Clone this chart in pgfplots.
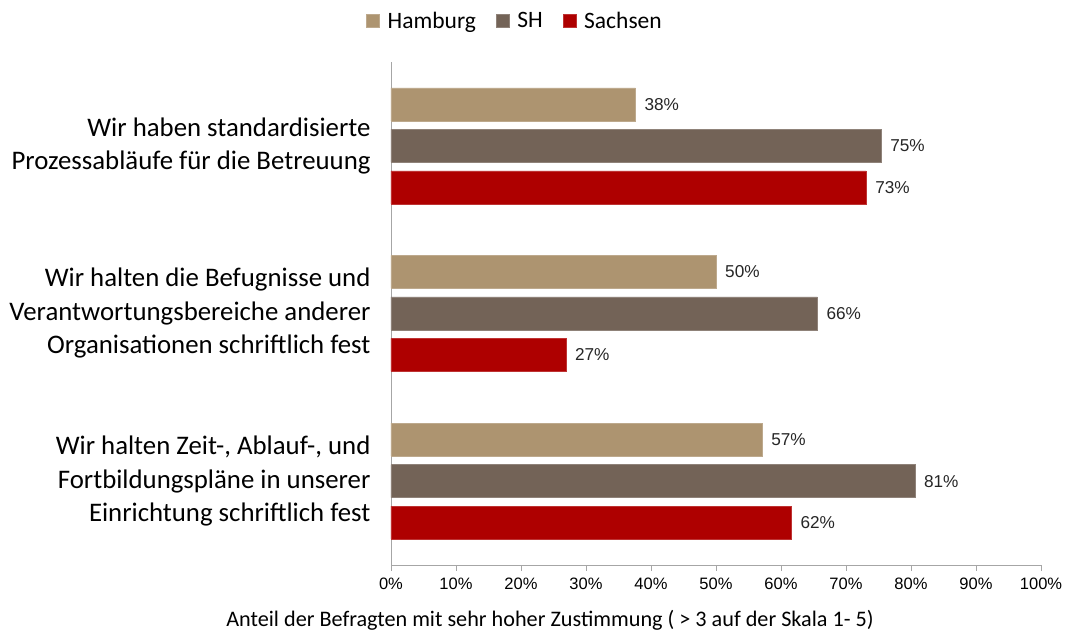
\documentclass[border=0pt]{standalone}
\usepackage{pgfplots}
\pgfplotsset{compat=1.18}
\usepackage{fontspec}
\setmainfont{Carlito}
\newfontfamily\arial{Liberation Sans}
\definecolor{cHam}{HTML}{AD9470}
\definecolor{cSH}{HTML}{736357}
\definecolor{cSax}{HTML}{AE0000}
\definecolor{axgray}{HTML}{A6A6A6}
\begin{document}
\begin{tikzpicture}
\useasboundingbox (-391pt,-69pt) rectangle (674pt,565pt);
\begin{axis}[
  scale only axis,
  width=650pt, height=503pt,
  xmin=0, xmax=100,
  ymin=-0.5, ymax=2.5,
  xbar, bar width=33pt,
  axis x line*=bottom,
  axis y line*=left,
  axis line style={axgray, line width=0.8pt},
  xtick={0,10,...,100},
  xticklabel={\pgfmathprintnumber{\tick}\%},
  /pgf/number format/assume math mode=true,
  xticklabel style={font=\arial\fontsize{16.5}{20}\selectfont, yshift=-3pt},
  tick align=outside,
  major tick length=6pt,
  xtick style={axgray, line width=0.8pt},
  ytick={0,1,2},
  yticklabels={{Wir halten Zeit-, Ablauf-, und\\Fortbildungspläne in unserer\\Einrichtung schriftlich fest},
               {Wir halten die Befugnisse und\\Verantwortungsbereiche anderer\\Organisationen schriftlich fest},
               {Wir haben standardisierte\\Prozessabläufe für die Betreuung}},
  yticklabel style={align=right, font=\fontsize{26.8}{33.5}\selectfont, xshift=-11pt},
  ytick style={draw=none},
  xlabel={Anteil der Befragten mit sehr hoher Zustimmung ( > 3 auf der Skala 1- 5)},
  xlabel style={font=\fontsize{22.2}{26}\selectfont, xshift=-166pt, yshift=-14pt},
  point meta=x,
  nodes near coords={\pgfmathprintnumber[fixed,precision=0]{\pgfplotspointmeta}\%},
  nodes near coords style={font=\arial\fontsize{17.2}{20}\selectfont, anchor=west, inner sep=0pt, xshift=9pt, text=black!85},
  legend columns=3,
  legend style={draw=none, fill=none, at={(rel axis cs:0.1908,1)}, anchor=center, yshift=41pt,
    font=\fontsize{23.5}{28}\selectfont, /tikz/every even column/.append style={column sep=18pt}},
  legend image code/.code={\fill[#1] (0pt,-6.5pt) rectangle (13pt,6.5pt); \path (19pt,0pt);},
]
\addplot[fill=cHam, draw=cHam!80!white, bar shift=41.5pt] coordinates {(57.1,0) (50.0,1) (37.6,2)};
\addplot[fill=cSH, draw=cSH!80!white, bar shift=0pt] coordinates {(80.6,0) (65.6,1) (75.4,2)};
\addplot[fill=cSax, draw=cSax!80!white, bar shift=-41.5pt] coordinates {(61.6,0) (26.9,1) (73.1,2)};
\legend{Hamburg, SH, Sachsen}
\end{axis}
\end{tikzpicture}
\end{document}
